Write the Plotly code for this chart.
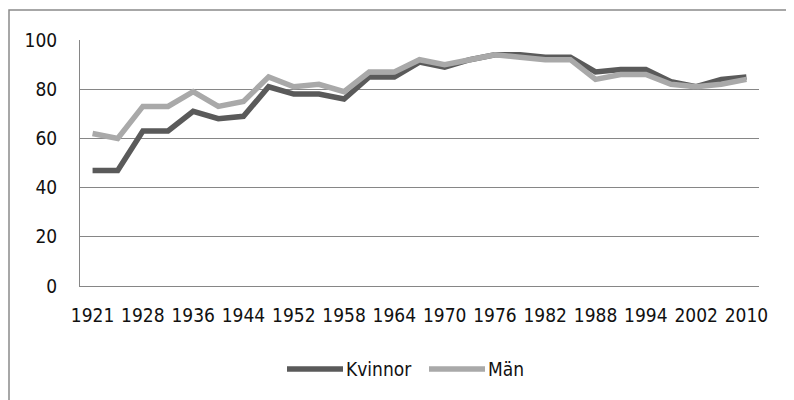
import plotly.graph_objects as go

years = ["1921", "1924", "1928", "1932", "1936", "1940", "1944", "1948", "1952",
         "1956", "1958", "1960", "1964", "1968", "1970", "1973", "1976", "1979",
         "1982", "1985", "1988", "1991", "1994", "1998", "2002", "2006", "2010"]
kvinnor = [47, 47, 63, 63, 71, 68, 69, 81, 78, 78, 76, 85, 85, 91, 89, 92, 94, 94,
           93, 93, 87, 88, 88, 83, 81, 84, 85]
man = [62, 60, 73, 73, 79, 73, 75, 85, 81, 82, 79, 87, 87, 92, 90, 92, 94, 93,
       92, 92, 84, 86, 86, 82, 81, 82, 84]
tick_years = years[::2]
y_ticks = [0, 20, 40, 60, 80, 100]

series = [("Kvinnor", kvinnor, "#5a5a5a"), ("Män", man, "#a9a9a9")]

FONT = "DejaVu Sans Condensed"
FS = 19

fig = go.Figure()
for name, vals, col in series:
    fig.add_trace(go.Scatter(x=years, y=vals, name=name, mode="lines",
                             line=dict(color=col, width=5.5), showlegend=False))

# page has an 8px body margin; figure is sized to fit and coordinates offset
OFF = 8
FW, FH = 794 - OFF, 400 - OFF
L, R, T, B = 80 - OFF, 759 - OFF, 40 - OFF, 286 - OFF
W, H = R - L, B - T
def px(x): return (x - OFF - L) / W
def py(y): return (B - (y - OFF)) / H

shapes = [dict(type="rect", xref="paper", yref="paper",
               x0=px(9), x1=px(793), y0=py(10), y1=py(404),
               line=dict(color="#8a8a8a", width=1.5), fillcolor="rgba(0,0,0,0)", layer="below")]
annotations = []
legend_items = [(287, 343), (429, 485)]
for (name, vals, col), (x0, x1) in zip(series, legend_items):
    shapes.append(dict(type="line", xref="paper", yref="paper",
                       x0=px(x0), x1=px(x1), y0=py(369), y1=py(369),
                       line=dict(color=col, width=5.5)))
    annotations.append(dict(xref="paper", yref="paper", x=px(x1 + 1), y=py(369),
                            xanchor="left", yanchor="middle", text=name, showarrow=False,
                            font=dict(family=FONT, size=FS, color="#111")))

fig.update_layout(
    width=FW, height=FH,
    margin=dict(l=L, r=FW - R, t=T, b=FH - B, autoexpand=False),
    paper_bgcolor="white", plot_bgcolor="white",
    font=dict(family=FONT, size=FS, color="#111"),
    shapes=shapes, annotations=annotations,
    showlegend=False,
    xaxis=dict(type="category", range=[-0.5, len(years) - 0.5],
               tickmode="array", tickvals=tick_years, ticktext=tick_years,
               tickangle=0, automargin=False,
               showgrid=False, showline=True, linecolor="#868686", linewidth=1,
               ticks="outside", ticklen=12, tickcolor="rgba(0,0,0,0)",
               zeroline=False),
    yaxis=dict(range=[0, 100], tickmode="array", tickvals=y_ticks, automargin=False,
               showgrid=True, gridcolor="#868686", gridwidth=1,
               showline=True, linecolor="#868686", linewidth=1,
               ticks="outside", ticklen=18, tickcolor="rgba(0,0,0,0)",
               zeroline=False),
)

fig.write_html("out.html")
